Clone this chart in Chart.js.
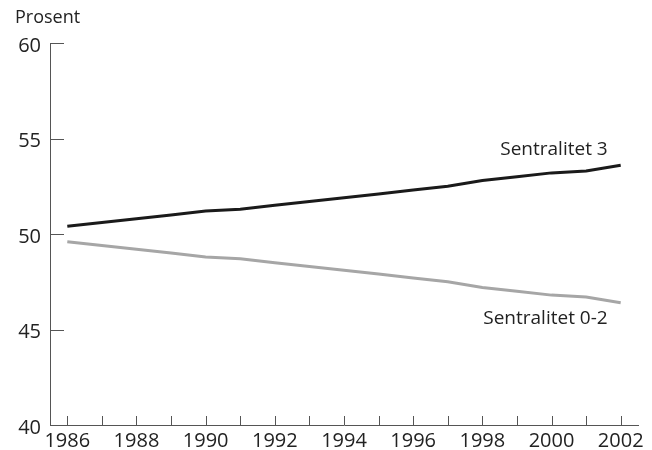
<!DOCTYPE html>
<html>
<head>
<meta charset="utf-8">
<script src="https://cdn.jsdelivr.net/npm/chart.js@4"></script>
<style>
  body { margin: 0; background: #fff; }
  #wrap { width: 652px; height: 450px; }
</style>
</head>
<body>
<div id="wrap"><canvas id="myChart" width="652" height="450"></canvas></div>
<script>
let years = [1986,1987,1988,1989,1990,1991,1992,1993,1994,1995,1996,1997,1998,1999,2000,2001,2002];
let sentralitet3 = [50.4,50.6,50.8,51.0,51.2,51.3,51.5,51.7,51.9,52.1,52.3,52.5,52.8,53.0,53.2,53.3,53.6];
let sentralitet02 = [49.6,49.4,49.2,49.0,48.8,48.7,48.5,48.3,48.1,47.9,47.7,47.5,47.2,47.0,46.8,46.7,46.4];
let yTicks = [40,45,50,55,60];
let xLabels = [1986,1988,1990,1992,1994,1996,1998,2000,2002];
let seriesNames = ['Sentralitet 3','Sentralitet 0-2'];

const FONT = "'Open Sans', sans-serif";
const TXT = '#222';
const AX = '#555';

// ticks point inward, labels and title drawn by hand
const extras = {
  id: 'extras',
  afterDraw(chart) {
    const c = chart.ctx, x = chart.scales.x, y = chart.scales.y, a = chart.chartArea;
    c.save();
    c.strokeStyle = AX;
    c.lineWidth = 1;
    c.beginPath();
    years.forEach(yr => {
      let px = Math.round(x.getPixelForValue(yr)) + 0.5;
      c.moveTo(px, a.bottom); c.lineTo(px, a.bottom - 9);
    });
    yTicks.forEach(v => {
      let py = Math.round(y.getPixelForValue(v)) + 0.5;
      c.moveTo(a.left, py); c.lineTo(a.left + 14, py);
    });
    c.stroke();

    c.fillStyle = TXT;
    c.font = '18px ' + FONT;
    c.textBaseline = 'middle';
    c.textAlign = 'left';
    c.fillText('Prosent', 15, 18);

    c.font = '20px ' + FONT;
    c.textAlign = 'right';
    yTicks.forEach(v => c.fillText(String(v), a.left - 9, y.getPixelForValue(v) + 3));
    c.textAlign = 'center';
    xLabels.forEach(v => c.fillText(String(v), x.getPixelForValue(v), a.bottom + 16));

    c.font = '19px ' + FONT;
    c.textAlign = 'right';
    let last = years.length - 1;
    let lx = x.getPixelForValue(years[last]) - 13;
    c.fillText(seriesNames[0], lx, y.getPixelForValue(sentralitet3[last]) - 16);
    c.fillText(seriesNames[1], lx, y.getPixelForValue(sentralitet02[last]) + 16);
    c.restore();
  }
};

new Chart(document.getElementById('myChart'), {
  type: 'line',
  data: {
    datasets: [
      {
        label: seriesNames[0],
        data: years.map((yr, i) => ({x: yr, y: sentralitet3[i]})),
        borderColor: '#1a1a1a',
        borderWidth: 3,
        pointRadius: 0,
        tension: 0
      },
      {
        label: seriesNames[1],
        data: years.map((yr, i) => ({x: yr, y: sentralitet02[i]})),
        borderColor: '#a6a6a6',
        borderWidth: 3,
        pointRadius: 0,
        tension: 0
      }
    ]
  },
  options: {
    responsive: false,
    animation: false,
    layout: { padding: { top: 43, left: 0, right: 14, bottom: 0 } },
    plugins: { legend: { display: false }, tooltip: { enabled: false } },
    scales: {
      x: {
        type: 'linear',
        min: 1985.5,
        max: 2002.5,
        grid: { display: false, drawTicks: false },
        border: { display: true, color: AX, width: 1 },
        ticks: { display: false },
        afterFit: s => { s.height = 25; }
      },
      y: {
        min: 40,
        max: 60,
        grid: { display: false, drawTicks: false },
        border: { display: true, color: AX, width: 1 },
        ticks: { display: false },
        afterFit: s => { s.width = 50; }
      }
    }
  },
  plugins: [extras]
});
</script>
</body>
</html>
